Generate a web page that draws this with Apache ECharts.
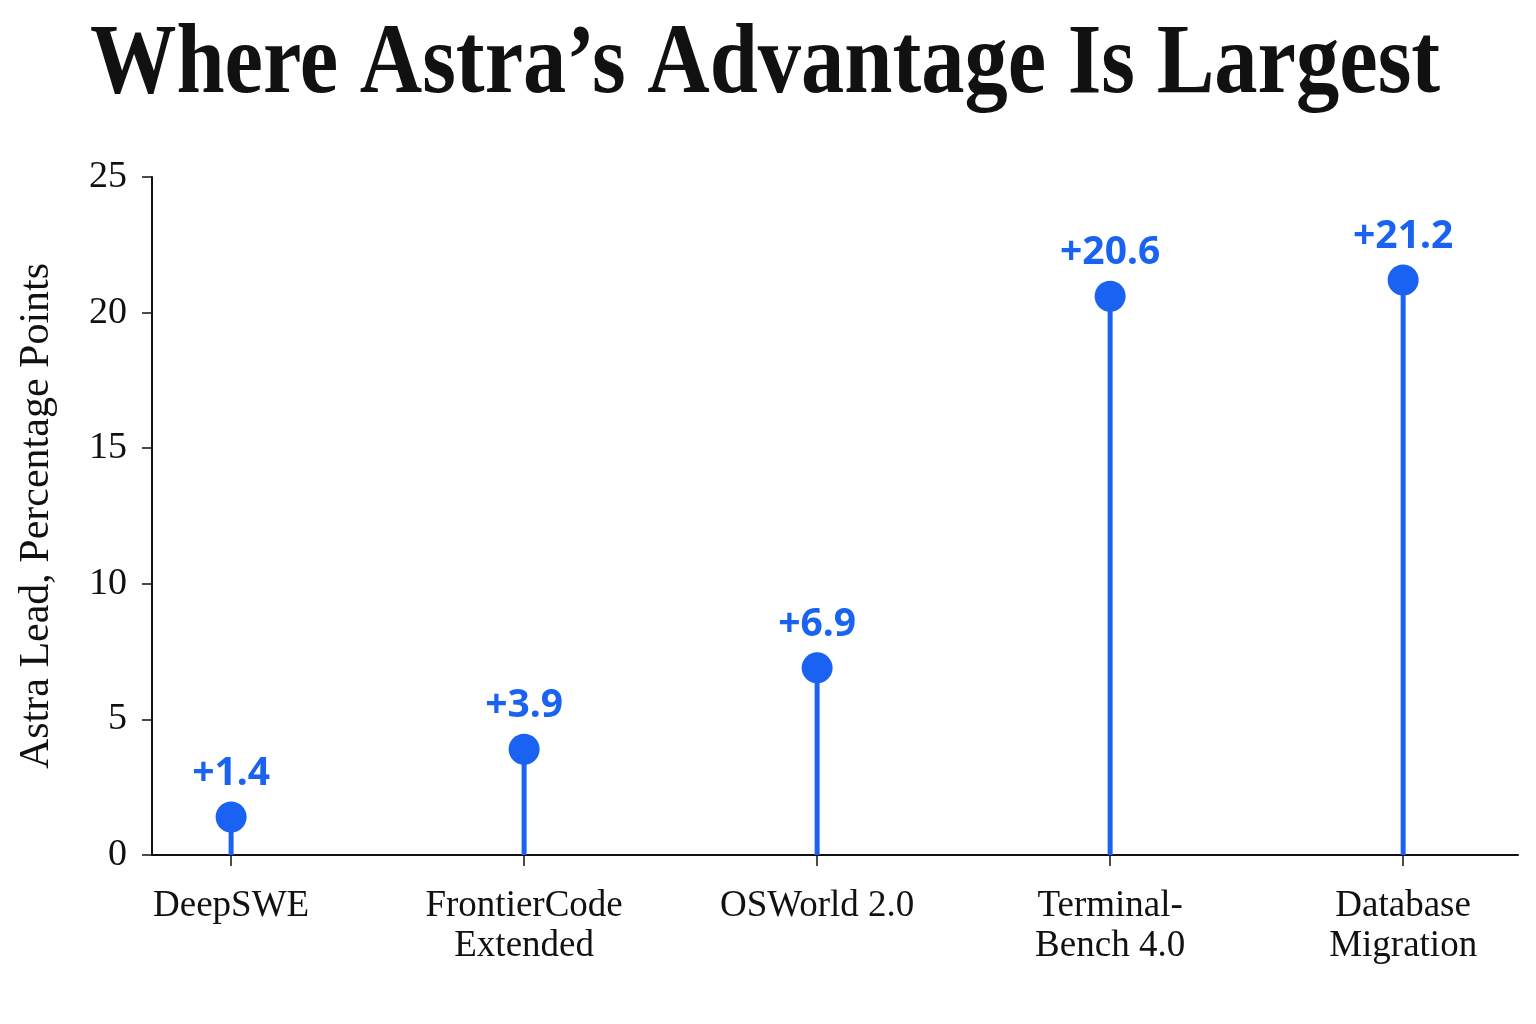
<!DOCTYPE html>
<html>
<head>
<meta charset="utf-8">
<script src="https://cdn.jsdelivr.net/npm/echarts@6/dist/echarts.min.js"></script>
<style>
  html, body { margin: 0; padding: 0; background: #fff; }
  #chart { width: 1536px; height: 1024px; }
</style>
</head>
<body>
<div id="chart"></div>
<script>
// veriler
const categories = ['DeepSWE', 'FrontierCode\nExtended', 'OSWorld 2.0', 'Terminal-\nBench 4.0', 'Database\nMigration'];
const leadValues = [1.4, 3.9, 6.9, 20.6, 21.2];
const yTicks = [0, 5, 10, 15, 20, 25];

const BLUE = '#1a63f2';
const SERIF = '"Liberation Serif", "DejaVu Serif", serif';

document.addEventListener('DOMContentLoaded', function () {
    const chart = echarts.init(document.getElementById('chart'));
    const points = leadValues.map((v, i) => [i, v]);
    const idx = categories.map((c, i) => i);

    const option = {
        backgroundColor: '#ffffff',
        animation: false,
        // başlık: dar ve kalın görünüm için yatayda sıkıştırılmış metin
        graphic: [{
            type: 'text',
            x: 765,
            y: 66,
            scaleX: 0.865,
            style: {
                text: 'Where Astra\u2019s Advantage Is Largest',
                font: '900 100px ' + SERIF,
                fill: '#111',
                textAlign: 'center',
                textVerticalAlign: 'middle'
            }
        }],
        grid: { left: 152, right: 18, top: 177, bottom: 169 },
        xAxis: {
            type: 'value',
            min: -0.27,
            max: 4.392,
            splitLine: { show: false },
            axisLine: { show: true, onZero: false, lineStyle: { color: '#111', width: 2 } },
            axisTick: { show: true, customValues: idx, length: 11, lineStyle: { color: '#111', width: 1.5 } },
            axisLabel: {
                customValues: idx,
                formatter: v => categories[Math.round(v)] || '',
                margin: 31,
                color: '#111',
                fontFamily: SERIF,
                fontSize: 37,
                lineHeight: 40,
                align: 'center'
            }
        },
        yAxis: {
            type: 'value',
            min: yTicks[0],
            max: yTicks[yTicks.length - 1],
            interval: 5,
            name: 'Astra Lead, Percentage Points',
            nameLocation: 'middle',
            nameGap: 94,
            nameTextStyle: { fontFamily: SERIF, fontSize: 42, color: '#111' },
            splitLine: { show: false },
            axisLine: { show: true, onZero: false, lineStyle: { color: '#111', width: 2 } },
            axisTick: { show: true, length: 10, lineStyle: { color: '#111', width: 1.5 } },
            axisLabel: { margin: 25, color: '#111', fontFamily: SERIF, fontSize: 38 }
        },
        series: [{
            // sap
            type: 'bar',
            data: points,
            barWidth: 5,
            itemStyle: { color: BLUE },
            silent: true
        }, {
            // nokta + etiket
            type: 'scatter',
            data: points,
            symbolSize: 31,
            itemStyle: { color: BLUE, opacity: 1 },
            label: {
                show: true,
                position: 'top',
                distance: 8,
                formatter: p => '+' + p.value[1].toFixed(1),
                color: BLUE,
                fontFamily: '"Noto Sans", "DejaVu Sans", sans-serif',
                fontWeight: 'bold',
                fontSize: 39
            },
            z: 3
        }]
    };
    chart.setOption(option);
});
</script>
</body>
</html>
